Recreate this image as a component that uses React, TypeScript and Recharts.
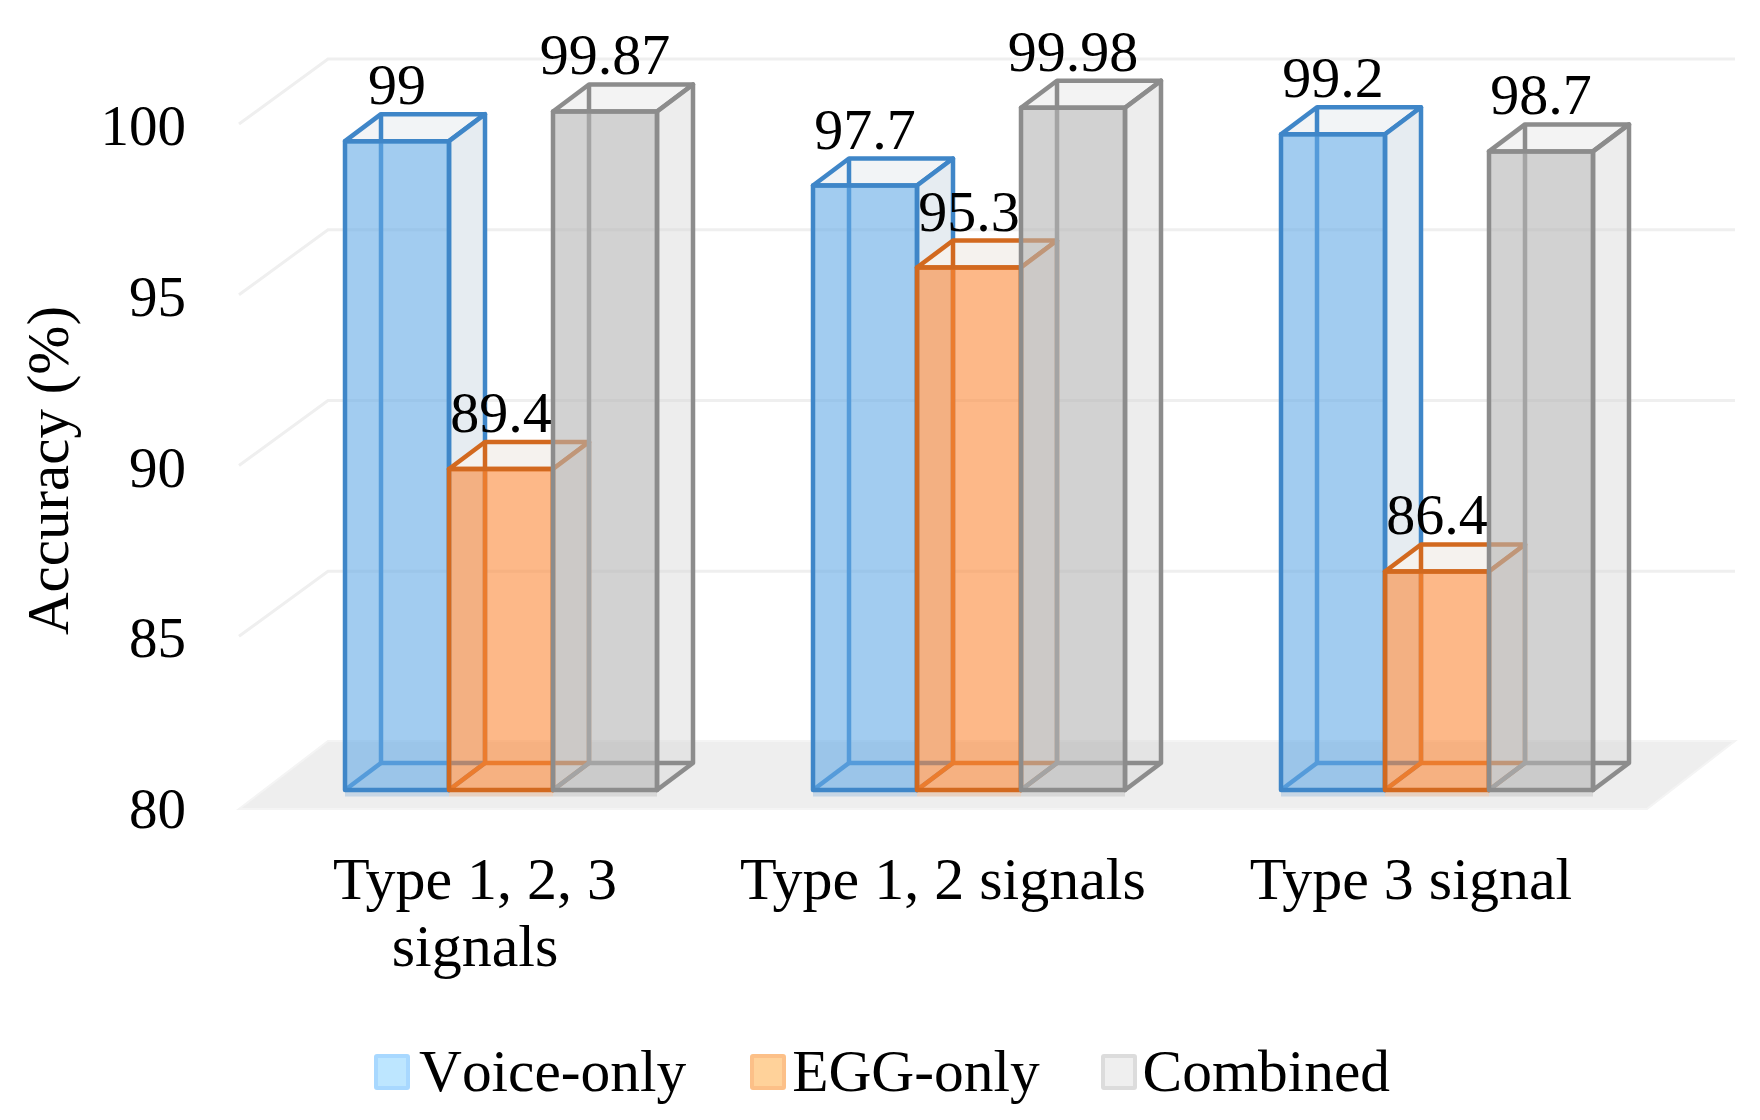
import { Bar, BarChart, CartesianGrid, LabelList, Legend, XAxis, YAxis } from "recharts";

const categoryLines = [["Type 1, 2, 3", "signals"], ["Type 1, 2 signals"], ["Type 3 signal"]];
const voiceOnly = [99, 97.7, 99.2];
const eggOnly = [89.4, 95.3, 86.4];
const combined = [99.87, 99.98, 98.7];
const valueTicks = [80, 85, 90, 95, 100];

const data = categoryLines.map((lines, i) => ({
  name: lines.join(" "),
  voice: voiceOnly[i],
  egg: eggOnly[i],
  combined: combined[i],
}));

const FONT = "'Liberation Serif', serif";
const DEPTH_X = 36;
const DEPTH_Y = 27;

const legendMarks: Record<string, { fill: string; border: string; textGap: number; after: number }> = {
  "Voice-only": { fill: "#bde6ff", border: "#a8d8ff", textGap: 9, after: 64 },
  "EGG-only": { fill: "#ffd29a", border: "#fcc088", textGap: 6, after: 61 },
  Combined: { fill: "#efefef", border: "#dcdcdc", textGap: 6, after: 0 },
};

function Box3D(props: any) {
  const { x, y, width, height, fill, stroke, side, top } = props;
  const r = x + width;
  const b = y + height;
  const dx = DEPTH_X;
  const dy = DEPTH_Y;
  return (
    <g strokeWidth={4.5} strokeLinejoin="round">
      {/* faint shadow under the front edge */}
      <line x1={x} y1={b + 4} x2={r} y2={b + 4} stroke={stroke} strokeOpacity={0.22} strokeWidth={5} />
      {/* top and right side */}
      <polygon points={`${x},${y} ${r},${y} ${r + dx},${y - dy} ${x + dx},${y - dy}`} fill={top} stroke={stroke} />
      <polygon points={`${r},${y} ${r + dx},${y - dy} ${r + dx},${b - dy} ${r},${b}`} fill={side} stroke={stroke} />
      {/* inside edges, seen through the front */}
      <line x1={x + dx} y1={y - dy} x2={x + dx} y2={b - dy} stroke={stroke} />
      <line x1={x + dx} y1={b - dy} x2={r + dx} y2={b - dy} stroke={stroke} />
      <line x1={x} y1={b} x2={x + dx} y2={b - dy} stroke={stroke} />
      {/* front */}
      <rect x={x} y={y} width={width} height={height} fill={fill} fillOpacity={0.6} stroke="none" />
      <rect x={x} y={y} width={width} height={height} fill="none" stroke={stroke} />
    </g>
  );
}

function WallLine(props: any) {
  const { x1, x2, y1, index } = props;
  const k = `wall-${index}`;
  if (y1 > 700) {
    const f = y1 + 19;
    const t = y1 - 49;
    return (
      <polygon
        key={k}
        points={`${x1 - 28},${f} ${x2 - 24},${f} ${x2 + 64},${t} ${x1 + 61},${t}`}
        fill="#eeeeee"
        stroke="#f4f4f4"
        strokeWidth={2}
      />
    );
  }
  return (
    <polyline
      key={k}
      points={`${x1 - 28},${y1 + 17} ${x1 + 61},${y1 - 48} ${x2 + 64},${y1 - 48}`}
      fill="none"
      stroke="#efefef"
      strokeWidth={3}
    />
  );
}

function ValueTick(props: any) {
  const { x, y, payload } = props;
  return (
    <text x={x - 73} y={y + 38} textAnchor="end" fontFamily={FONT} fontSize={57} fill="#000">
      {payload.value}
    </text>
  );
}

function CategoryTick(props: any) {
  const { x, y, index } = props;
  const tx = x - 26;
  return (
    <text x={tx} y={y + 101} textAnchor="middle" fontFamily={FONT} fontSize={60} fill="#000">
      {categoryLines[index].map((line, i) => (
        <tspan key={line} x={tx} dy={i === 0 ? 0 : 67}>
          {line}
        </tspan>
      ))}
    </text>
  );
}

function LegendRow({ payload }: any) {
  return (
    <div
      style={{
        display: "flex",
        alignItems: "center",
        paddingLeft: 374,
        fontFamily: FONT,
        fontSize: 59.4,
        fontKerning: "none",
        color: "#000",
      }}
    >
      {(payload ?? []).map((item: any) => {
        const mark = legendMarks[item.value];
        return (
          <div key={item.value} style={{ display: "flex", alignItems: "center", marginRight: mark.after }}>
            <span
              style={{
                display: "inline-block",
                boxSizing: "border-box",
                width: 36,
                height: 36,
                borderRadius: 3,
                background: mark.fill,
                border: `4px solid ${mark.border}`,
                marginRight: mark.textGap,
              }}
            />
            <span>{item.value}</span>
          </div>
        );
      })}
    </div>
  );
}

export default function App() {
  return (
    <div style={{ position: "absolute", left: 0, top: 0, width: 1760, height: 1120, background: "#fff" }}>
      <BarChart
        width={1760}
        height={1120}
        data={data}
        barGap={0}
        barSize={104}
        margin={{ top: 107, right: 89, bottom: 44, left: 0 }}
      >
        <CartesianGrid vertical={false} horizontal={WallLine} syncWithTicks />
        <XAxis dataKey="name" axisLine={false} tickLine={false} height={217} tick={CategoryTick} interval={0} />
        <YAxis
          width={267}
          domain={[80, 100]}
          ticks={valueTicks}
          axisLine={false}
          tickLine={false}
          tick={ValueTick}
          label={{
            value: "Accuracy (%)",
            angle: -90,
            position: "insideLeft",
            dx: 42,
            dy: 22,
            style: { fontFamily: FONT, fontSize: 59, fill: "#000", textAnchor: "middle" },
          }}
        />
        <Legend
          content={LegendRow}
          itemSorter={null}
          wrapperStyle={{ position: "absolute", left: 0, top: 1037, width: 1760 }}
        />
        <Bar
          dataKey="voice"
          name="Voice-only"
          fill="#64aae6"
          stroke="#3f86c8"
          shape={(p: any) => <Box3D {...p} side="#e6ecf1" top="#f2f4f6" />}
          isAnimationActive={false}
        >
          <LabelList dataKey="voice" position="top" offset={37} fontFamily={FONT} fontSize={58} fill="#000" />
        </Bar>
        <Bar
          dataKey="egg"
          name="EGG-only"
          fill="#fc8939"
          stroke="#d2691f"
          shape={(p: any) => <Box3D {...p} side="#f1e9e3" top="#f5f2ee" />}
          isAnimationActive={false}
        >
          <LabelList dataKey="egg" position="top" offset={37} fontFamily={FONT} fontSize={58} fill="#000" />
        </Bar>
        <Bar
          dataKey="combined"
          name="Combined"
          fill="#b4b4b4"
          stroke="#8c8c8c"
          shape={(p: any) => <Box3D {...p} side="rgba(215,215,215,0.45)" top="rgba(215,215,215,0.3)" />}
          isAnimationActive={false}
        >
          <LabelList dataKey="combined" position="top" offset={37} fontFamily={FONT} fontSize={58} fill="#000" />
        </Bar>
      </BarChart>
    </div>
  );
}
